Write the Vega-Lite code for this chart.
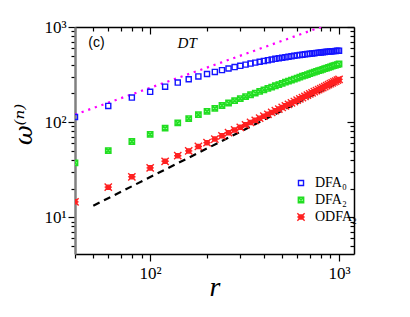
{
  "$schema": "https://vega.github.io/schema/vega-lite/v6.json",
  "width": 279,
  "height": 227,
  "autosize": "none",
  "padding": {"left": 75, "top": 27, "right": 56, "bottom": 63},
  "background": "white",
  "config": {
    "view": {"stroke": null},
    "axis": {"grid": false, "domainColor": "black", "tickColor": "black", "labelColor": "black", "titleColor": "black", "labelFont": "Liberation Serif", "labelFontSize": 17, "titleFont": "Liberation Serif"},
    "legend": {"orient": "none", "legendX": 219, "legendY": 149, "padding": 0, "rowPadding": 3, "labelFont": "Liberation Serif", "labelFontSize": 14, "labelOffset": 7, "symbolSize": 40, "symbolStrokeWidth": 1.4, "titleFontSize": 0}
  },
  "datasets": {
    "pts": [
      {"r":40,"w":113,"s":"DFA₀"},{"r":60,"w":148,"s":"DFA₀"},{"r":80,"w":181,"s":"DFA₀"},{"r":100,"w":208,"s":"DFA₀"},{"r":120,"w":235.9,"s":"DFA₀"},{"r":140,"w":260.4,"s":"DFA₀"},{"r":160,"w":282.3,"s":"DFA₀"},{"r":180,"w":302.1,"s":"DFA₀"},{"r":200,"w":320.2,"s":"DFA₀"},{"r":220,"w":336.8,"s":"DFA₀"},{"r":240,"w":351.9,"s":"DFA₀"},{"r":260,"w":365.9,"s":"DFA₀"},{"r":280,"w":378.8,"s":"DFA₀"},{"r":300,"w":390.8,"s":"DFA₀"},{"r":320,"w":402,"s":"DFA₀"},{"r":340,"w":412.5,"s":"DFA₀"},{"r":360,"w":422.2,"s":"DFA₀"},{"r":380,"w":431.3,"s":"DFA₀"},{"r":400,"w":439.9,"s":"DFA₀"},{"r":420,"w":447.8,"s":"DFA₀"},{"r":440,"w":455.5,"s":"DFA₀"},{"r":460,"w":462.7,"s":"DFA₀"},{"r":480,"w":469.3,"s":"DFA₀"},{"r":500,"w":475.8,"s":"DFA₀"},{"r":520,"w":481.7,"s":"DFA₀"},{"r":540,"w":487.4,"s":"DFA₀"},{"r":560,"w":492.8,"s":"DFA₀"},{"r":580,"w":498,"s":"DFA₀"},{"r":600,"w":502.8,"s":"DFA₀"},{"r":620,"w":507.4,"s":"DFA₀"},{"r":640,"w":511.8,"s":"DFA₀"},{"r":660,"w":516.1,"s":"DFA₀"},{"r":680,"w":520.1,"s":"DFA₀"},{"r":700,"w":523.9,"s":"DFA₀"},{"r":720,"w":527.4,"s":"DFA₀"},{"r":740,"w":530.8,"s":"DFA₀"},{"r":760,"w":534.2,"s":"DFA₀"},{"r":780,"w":537.3,"s":"DFA₀"},{"r":800,"w":540.3,"s":"DFA₀"},{"r":820,"w":543.2,"s":"DFA₀"},{"r":840,"w":545.8,"s":"DFA₀"},{"r":860,"w":548.6,"s":"DFA₀"},{"r":880,"w":551,"s":"DFA₀"},{"r":900,"w":553.3,"s":"DFA₀"},{"r":920,"w":555.7,"s":"DFA₀"},{"r":940,"w":557.8,"s":"DFA₀"},{"r":960,"w":559.8,"s":"DFA₀"},{"r":980,"w":561.8,"s":"DFA₀"},{"r":1000,"w":563.6,"s":"DFA₀"},
      {"r":40,"w":37.3,"s":"DFA₂"},{"r":60,"w":50.2,"s":"DFA₂"},{"r":80,"w":62.5,"s":"DFA₂"},{"r":100,"w":74.3,"s":"DFA₂"},{"r":120,"w":86.4,"s":"DFA₂"},{"r":140,"w":97.9,"s":"DFA₂"},{"r":160,"w":108.9,"s":"DFA₂"},{"r":180,"w":119.6,"s":"DFA₂"},{"r":200,"w":129.8,"s":"DFA₂"},{"r":220,"w":139.7,"s":"DFA₂"},{"r":240,"w":149.4,"s":"DFA₂"},{"r":260,"w":158.8,"s":"DFA₂"},{"r":280,"w":167.9,"s":"DFA₂"},{"r":300,"w":176.7,"s":"DFA₂"},{"r":320,"w":185.4,"s":"DFA₂"},{"r":340,"w":193.9,"s":"DFA₂"},{"r":360,"w":202.2,"s":"DFA₂"},{"r":380,"w":210.2,"s":"DFA₂"},{"r":400,"w":218.2,"s":"DFA₂"},{"r":420,"w":225.9,"s":"DFA₂"},{"r":440,"w":233.6,"s":"DFA₂"},{"r":460,"w":241.1,"s":"DFA₂"},{"r":480,"w":248.4,"s":"DFA₂"},{"r":500,"w":255.8,"s":"DFA₂"},{"r":520,"w":262.9,"s":"DFA₂"},{"r":540,"w":269.9,"s":"DFA₂"},{"r":560,"w":276.8,"s":"DFA₂"},{"r":580,"w":283.6,"s":"DFA₂"},{"r":600,"w":290.4,"s":"DFA₂"},{"r":620,"w":297,"s":"DFA₂"},{"r":640,"w":303.6,"s":"DFA₂"},{"r":660,"w":309.8,"s":"DFA₂"},{"r":680,"w":316.2,"s":"DFA₂"},{"r":700,"w":322.5,"s":"DFA₂"},{"r":720,"w":328.6,"s":"DFA₂"},{"r":740,"w":334.7,"s":"DFA₂"},{"r":760,"w":340.8,"s":"DFA₂"},{"r":780,"w":346.8,"s":"DFA₂"},{"r":800,"w":352.7,"s":"DFA₂"},{"r":820,"w":358.5,"s":"DFA₂"},{"r":840,"w":364.3,"s":"DFA₂"},{"r":860,"w":370,"s":"DFA₂"},{"r":880,"w":375.7,"s":"DFA₂"},{"r":900,"w":381.2,"s":"DFA₂"},{"r":920,"w":386.8,"s":"DFA₂"},{"r":940,"w":392.3,"s":"DFA₂"},{"r":960,"w":397.8,"s":"DFA₂"},{"r":980,"w":403,"s":"DFA₂"},{"r":1000,"w":408.3,"s":"DFA₂"},
      {"r":40,"w":14.5,"s":"ODFA₂"},{"r":60,"w":20.7,"s":"ODFA₂"},{"r":80,"w":26.6,"s":"ODFA₂"},{"r":100,"w":33,"s":"ODFA₂"},{"r":120,"w":38.7,"s":"ODFA₂"},{"r":140,"w":44.3,"s":"ODFA₂"},{"r":160,"w":49.8,"s":"ODFA₂"},{"r":180,"w":55.4,"s":"ODFA₂"},{"r":200,"w":60.8,"s":"ODFA₂"},{"r":220,"w":66.3,"s":"ODFA₂"},{"r":240,"w":71.8,"s":"ODFA₂"},{"r":260,"w":77.3,"s":"ODFA₂"},{"r":280,"w":82.7,"s":"ODFA₂"},{"r":300,"w":88.1,"s":"ODFA₂"},{"r":320,"w":93.6,"s":"ODFA₂"},{"r":340,"w":99.1,"s":"ODFA₂"},{"r":360,"w":104.5,"s":"ODFA₂"},{"r":380,"w":109.9,"s":"ODFA₂"},{"r":400,"w":115.4,"s":"ODFA₂"},{"r":420,"w":120.8,"s":"ODFA₂"},{"r":440,"w":126.3,"s":"ODFA₂"},{"r":460,"w":131.8,"s":"ODFA₂"},{"r":480,"w":137.2,"s":"ODFA₂"},{"r":500,"w":142.7,"s":"ODFA₂"},{"r":520,"w":148.2,"s":"ODFA₂"},{"r":540,"w":153.6,"s":"ODFA₂"},{"r":560,"w":159.1,"s":"ODFA₂"},{"r":580,"w":164.6,"s":"ODFA₂"},{"r":600,"w":170.1,"s":"ODFA₂"},{"r":620,"w":175.6,"s":"ODFA₂"},{"r":640,"w":181.1,"s":"ODFA₂"},{"r":660,"w":186.6,"s":"ODFA₂"},{"r":680,"w":192.1,"s":"ODFA₂"},{"r":700,"w":197.6,"s":"ODFA₂"},{"r":720,"w":203.1,"s":"ODFA₂"},{"r":740,"w":208.7,"s":"ODFA₂"},{"r":760,"w":214.2,"s":"ODFA₂"},{"r":780,"w":219.8,"s":"ODFA₂"},{"r":800,"w":225.4,"s":"ODFA₂"},{"r":820,"w":230.9,"s":"ODFA₂"},{"r":840,"w":236.5,"s":"ODFA₂"},{"r":860,"w":242,"s":"ODFA₂"},{"r":880,"w":247.6,"s":"ODFA₂"},{"r":900,"w":253.1,"s":"ODFA₂"},{"r":920,"w":258.8,"s":"ODFA₂"},{"r":940,"w":264.4,"s":"ODFA₂"},{"r":960,"w":270,"s":"ODFA₂"},{"r":980,"w":275.6,"s":"ODFA₂"},{"r":1000,"w":281.2,"s":"ODFA₂"}
    ],
    "fitA": [{"r":40,"w":120},{"r":1000,"w":1169}],
    "fitB": [{"r":50,"w":13.2},{"r":1000,"w":264}],
    "labC": [{"r":52,"w":680,"t":"(c)"}],
    "labDT": [{"r":157,"w":680,"t":"DT"}]
  },
  "resolve": {"axis": {"x": "independent", "y": "independent"}},
  "layer": [
    {
      "data": {"name": "fitA"},
      "mark": {"type": "line", "color": "#ff00ff", "strokeWidth": 2.2, "strokeDash": [2.2, 4.8], "clip": true},
      "encoding": {
        "x": {"field": "r", "type": "quantitative", "scale": {"type": "log", "domain": [40, 1200], "nice": false}, "axis": null},
        "y": {"field": "w", "type": "quantitative", "scale": {"type": "log", "domain": [4.1, 1000], "nice": false}, "axis": null}
      }
    },
    {
      "data": {"name": "fitB"},
      "mark": {"type": "line", "color": "black", "strokeWidth": 2.2, "strokeDash": [7, 5], "clip": true},
      "encoding": {
        "x": {"field": "r", "type": "quantitative", "scale": {"type": "log", "domain": [40, 1200], "nice": false}, "axis": null},
        "y": {"field": "w", "type": "quantitative", "scale": {"type": "log", "domain": [4.1, 1000], "nice": false}, "axis": null}
      }
    },
    {
      "data": {"name": "pts"},
      "mark": {"type": "point", "strokeWidth": 1.4, "size": 40, "opacity": 1, "clip": true},
      "encoding": {
        "x": {"field": "r", "type": "quantitative", "scale": {"type": "log", "domain": [40, 1200], "nice": false},
          "axis": {"orient": "bottom", "values": [40,50,60,70,80,90,100,200,300,400,500,600,700,800,900,1000],
            "labelExpr": "datum.value == 100 ? '10²' : datum.value == 1000 ? '10³' : ''",
            "labelOverlap": false, "labelPadding": 4, "labelFont": "Liberation Serif",
            "tickSize": {"condition": {"test": "datum.value == 100 || datum.value == 1000", "value": 7}, "value": 4},
            "tickWidth": 1.2, "domainWidth": 1.5,
            "title": "r", "titleFontStyle": "italic", "titleFontWeight": "normal", "titleFontSize": 28,
            "titleY": 41, "titleBaseline": "alphabetic"}},
        "y": {"field": "w", "type": "quantitative", "scale": {"type": "log", "domain": [4.1, 1000], "nice": false},
          "axis": {"orient": "left", "values": [5,6,7,8,9,10,20,30,40,50,60,70,80,90,100,200,300,400,500,600,700,800,900,1000],
            "labelExpr": "datum.value == 10 ? '10¹' : datum.value == 100 ? '10²' : datum.value == 1000 ? '10³' : ''",
            "labelOverlap": false, "labelPadding": 2, "labelFont": "Liberation Serif",
            "tickSize": {"condition": {"test": "datum.value == 10 || datum.value == 100 || datum.value == 1000", "value": 7}, "value": 4},
            "tickWidth": 1.2, "domainColor": "#808080", "domainWidth": 2.5,
            "title": "ω⁽ⁿ⁾", "titleFont": "DejaVu Serif", "titleFontStyle": "italic", "titleFontWeight": "normal", "titleFontSize": 24,
            "titleX": -51, "titleY": 97, "titleAngle": -90, "titleAlign": "center", "titleBaseline": "middle"}},
        "stroke": {"field": "s", "type": "nominal", "title": null, "scale": {"domain": ["DFA₀", "DFA₂", "ODFA₂"], "range": ["#1414ff", "#22dd22", "#ff2020"]}},
        "fill": {"field": "s", "type": "nominal", "title": null, "scale": {"domain": ["DFA₀", "DFA₂", "ODFA₂"], "range": ["transparent", "#88ff88", "#ff7070"]}},
        "shape": {"field": "s", "type": "nominal", "title": null, "scale": {"domain": ["DFA₀", "DFA₂", "ODFA₂"], "range": ["M-0.8,-0.8H0.8V0.8H-0.8Z", "M-0.85,-0.85H0.85V0.85H-0.85Z M-0.85,-0.85L0.85,0.85 M0.85,-0.85L-0.85,0.85", "M-1.15,-1.15L1.15,1.15 M1.15,-1.15L-1.15,1.15 M-0.65,-0.65H0.65V0.65H-0.65Z M-1.15,0H1.15"]}}
      }
    },
    {
      "data": {"name": "labC"},
      "mark": {"type": "text", "font": "Liberation Sans", "fontSize": 14, "color": "black", "baseline": "middle", "align": "center"},
      "encoding": {
        "text": {"field": "t"},
        "x": {"field": "r", "type": "quantitative", "scale": {"type": "log", "domain": [40, 1200], "nice": false},
          "axis": {"orient": "top", "values": [40,50,60,70,80,90,100,200,300,400,500,600,700,800,900,1000], "labels": false, "title": null,
            "tickSize": {"condition": {"test": "datum.value == 100 || datum.value == 1000", "value": -7}, "value": -4}, "tickWidth": 1.2, "domainWidth": 1.5}},
        "y": {"field": "w", "type": "quantitative", "scale": {"type": "log", "domain": [4.1, 1000], "nice": false},
          "axis": {"orient": "right", "values": [5,6,7,8,9,10,20,30,40,50,60,70,80,90,100,200,300,400,500,600,700,800,900,1000], "labels": false, "title": null,
            "tickSize": {"condition": {"test": "datum.value == 10 || datum.value == 100 || datum.value == 1000", "value": -7}, "value": -4}, "tickWidth": 1.2, "domainWidth": 1.5}}
      }
    },
    {
      "data": {"name": "labDT"},
      "mark": {"type": "text", "font": "Liberation Serif", "fontSize": 15, "fontStyle": "italic", "color": "black", "baseline": "middle", "align": "center"},
      "encoding": {
        "text": {"field": "t"},
        "x": {"field": "r", "type": "quantitative", "scale": {"type": "log", "domain": [40, 1200], "nice": false}, "axis": null},
        "y": {"field": "w", "type": "quantitative", "scale": {"type": "log", "domain": [4.1, 1000], "nice": false}, "axis": null}
      }
    }
  ]
}
